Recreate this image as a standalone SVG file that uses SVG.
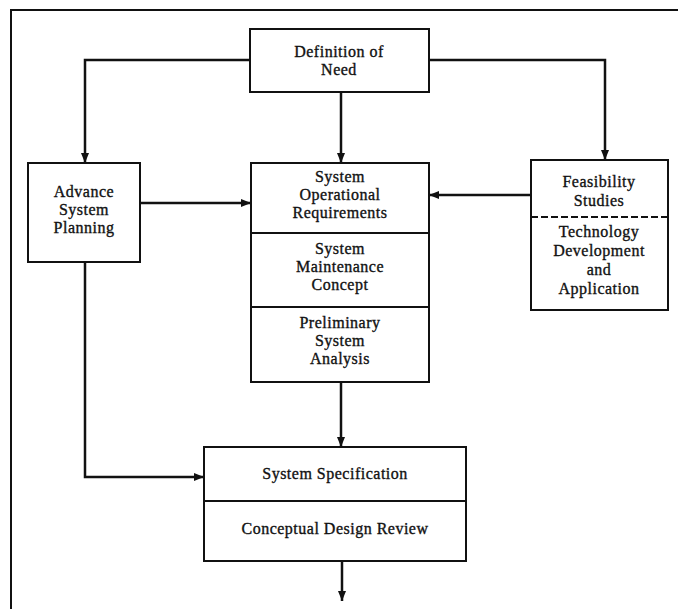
<svg xmlns="http://www.w3.org/2000/svg" width="678" height="609" viewBox="0 0 678 609">
  <style>
    .box { fill: #fff; stroke: #111; stroke-width: 2; }
    .div { stroke: #111; stroke-width: 2; fill: none; }
    .dash { stroke: #111; stroke-width: 2; fill: none; stroke-dasharray: 7 3; }
    .conn { stroke: #111; stroke-width: 2.5; fill: none; }
    .frame { stroke: #111; stroke-width: 2; fill: none; }
    text { font-family: "Liberation Serif", "Times New Roman", serif; font-size: 16px; letter-spacing: 0.5px; fill: #111; text-anchor: middle; stroke: #111; stroke-width: 0.35; }
  </style>
  <defs>
    <marker id="arrow" viewBox="0 0 10 10" refX="10" refY="5" markerWidth="4" markerHeight="4" orient="auto" markerUnits="strokeWidth">
      <path d="M0,1 L10,5 L0,9 z" fill="#111"/>
    </marker>
  </defs>

  <rect width="678" height="609" fill="#fff"/>
  <!-- page frame (top and left edges only) -->
  <path class="frame" d="M11,609 L11,10 L678,10"/>

  <g id="connectors">
    <path class="conn" d="M250,60 L85,60 L85,163" marker-end="url(#arrow)"/>
    <path class="conn" d="M341,92 L341,163" marker-end="url(#arrow)"/>
    <path class="conn" d="M429,60 L605,60 L605,160" marker-end="url(#arrow)"/>
    <path class="conn" d="M140,203 L251,203" marker-end="url(#arrow)"/>
    <path class="conn" d="M531,195 L429,195" marker-end="url(#arrow)"/>
    <path class="conn" d="M85,262 L85,477 L204,477" marker-end="url(#arrow)"/>
    <path class="conn" d="M341,382 L341,447" marker-end="url(#arrow)"/>
    <path class="conn" d="M342,561 L342,601" marker-end="url(#arrow)"/>
  </g>

  <g id="definition-of-need">
    <rect class="box" x="250" y="29" width="179" height="63"/>
    <text x="339" y="57">Definition of</text>
    <text x="339" y="75">Need</text>
  </g>

  <g id="advance-system-planning">
    <rect class="box" x="28" y="163" width="112" height="99"/>
    <text x="84" y="197">Advance</text>
    <text x="84" y="215">System</text>
    <text x="84" y="233">Planning</text>
  </g>

  <g id="system-analysis-stack">
    <rect class="box" x="251" y="163" width="178" height="219"/>
    <line class="div" x1="251" y1="233" x2="429" y2="233"/>
    <line class="div" x1="251" y1="307" x2="429" y2="307"/>
    <text x="340" y="182">System</text>
    <text x="340" y="200">Operational</text>
    <text x="340" y="218">Requirements</text>
    <text x="340" y="254">System</text>
    <text x="340" y="272">Maintenance</text>
    <text x="340" y="290">Concept</text>
    <text x="340" y="328">Preliminary</text>
    <text x="340" y="346">System</text>
    <text x="340" y="364">Analysis</text>
  </g>

  <g id="feasibility-studies">
    <rect class="box" x="531" y="160" width="137" height="150"/>
    <line class="dash" x1="531" y1="217" x2="668" y2="217"/>
    <text x="599" y="187">Feasibility</text>
    <text x="599" y="206">Studies</text>
    <text x="599" y="237">Technology</text>
    <text x="599" y="256">Development</text>
    <text x="599" y="275">and</text>
    <text x="599" y="294">Application</text>
  </g>

  <g id="system-specification">
    <rect class="box" x="204" y="447" width="262" height="114"/>
    <line class="div" x1="204" y1="501" x2="466" y2="501"/>
    <text x="335" y="479">System Specification</text>
    <text x="335" y="534">Conceptual Design Review</text>
  </g>
</svg>
